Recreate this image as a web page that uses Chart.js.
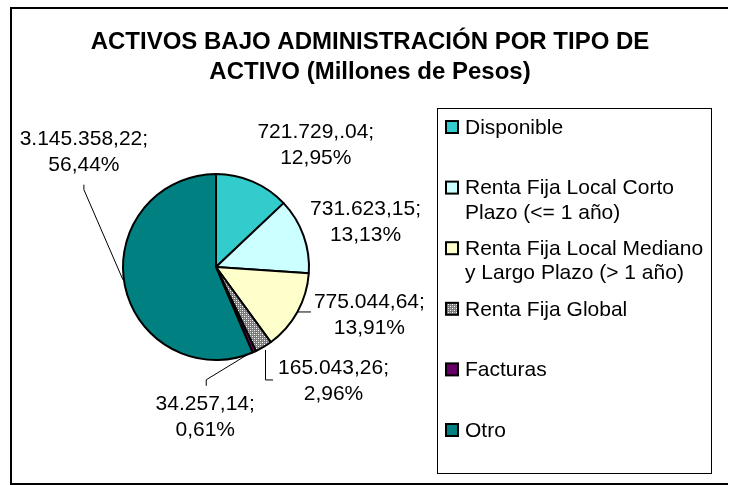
<!DOCTYPE html>
<html>
<head>
<meta charset="utf-8">
<script src="https://cdn.jsdelivr.net/npm/chart.js@4.4.0/dist/chart.umd.min.js"></script>
<style>
  body { margin: 0; background: #fff; }
  #wrap { width: 737px; height: 485px; }
</style>
</head>
<body>
<div id="wrap"><canvas id="pieChart" width="737" height="485"></canvas></div>
<script>
const titleLines = ['ACTIVOS BAJO ADMINISTRACIÓN POR TIPO DE', 'ACTIVO (Millones de Pesos)'];
const categories = [
    'Disponible',
    'Renta Fija Local Corto Plazo (<= 1 año)',
    'Renta Fija Local Mediano y Largo Plazo (> 1 año)',
    'Renta Fija Global',
    'Facturas',
    'Otro'
];
const amounts = [721729.04, 731623.15, 775044.64, 165043.26, 34257.14, 3145358.22];
const amountLabels = ['721.729,.04', '731.623,15', '775.044,64', '165.043,26', '34.257,14', '3.145.358,22'];

const FONT = '"Liberation Sans", Arial, sans-serif';

// grey dotted fill used by Excel for "Renta Fija Global"
function dotPattern() {
    const c = document.createElement('canvas');
    c.width = 4;
    c.height = 4;
    const g = c.getContext('2d');
    g.fillStyle = '#7a7a7a';
    g.fillRect(0, 0, 4, 4);
    g.fillStyle = '#ffffff';
    g.fillRect(0, 0, 1, 1);
    g.fillRect(2, 2, 1, 1);
    g.fillStyle = '#c8c8c8';
    g.fillRect(2, 0, 1, 1);
    g.fillRect(0, 2, 1, 1);
    return g.createPattern(c, 'repeat');
}

const sliceColors = ['#33cccc', '#ccffff', '#ffffcc', dotPattern(), '#660066', '#008080'];

// label block centre relative to the slice's outer mid point, plus leader style
const labelPlacement = [
    { dx: 63, dy: -37, leader: null },
    { dx: 62, dy: -14, leader: null },
    { dx: 72, dy: 2, leader: 'side' },
    { dx: 70, dy: 33, leader: 'elbow' },
    { dx: -49, dy: 64, leader: 'top' },
    { dx: -41, dy: -134, leader: 'bottom' }
];

function formatPct(v, total) {
    return (v / total * 100).toFixed(2).replace('.', ',') + '%';
}

function wrapText(ctx, text, maxWidth) {
    const words = text.split(' ');
    const lines = [];
    let line = '';
    words.forEach(w => {
        const test = line ? line + ' ' + w : w;
        if (ctx.measureText(test).width > maxWidth && line) {
            lines.push(line);
            line = w;
        } else {
            line = test;
        }
    });
    lines.push(line);
    return lines;
}

const decorPlugin = {
    id: 'decor',
    beforeDraw(chart) {
        const ctx = chart.ctx;
        ctx.save();
        ctx.fillStyle = '#fff';
        ctx.fillRect(0, 0, chart.width, chart.height);

        // outer frame (right side is cut off in the original)
        ctx.strokeStyle = '#000';
        ctx.lineWidth = 2;
        ctx.beginPath();
        ctx.moveTo(728, 8);
        ctx.lineTo(11, 8);
        ctx.lineTo(11, 484);
        ctx.lineTo(728, 484);
        ctx.stroke();

        // title
        ctx.fillStyle = '#000';
        ctx.font = 'bold 24px ' + FONT;
        ctx.textAlign = 'center';
        ctx.textBaseline = 'middle';
        titleLines.forEach((t, i) => ctx.fillText(t, 370, 42 + i * 30));

        // legend
        ctx.lineWidth = 1;
        ctx.strokeRect(437.5, 108.5, 274, 365);
        ctx.font = '21px ' + FONT;
        ctx.textAlign = 'left';
        categories.forEach((cat, i) => {
            const y = 127 + i * 60.6;
            ctx.fillStyle = sliceColors[i];
            ctx.fillRect(446, y - 6, 12, 12);
            ctx.lineWidth = 2;
            ctx.strokeRect(446, y - 6, 12, 12);
            ctx.fillStyle = '#000';
            wrapText(ctx, cat, 245).forEach((ln, j) => ctx.fillText(ln, 465, y + 1 + j * 24.5));
        });
        ctx.restore();
    },
    afterDatasetsDraw(chart) {
        const ctx = chart.ctx;
        const arcs = chart.getDatasetMeta(0).data;
        const total = amounts.reduce((a, b) => a + b, 0);
        ctx.save();
        ctx.font = '21px ' + FONT;
        ctx.fillStyle = '#000';
        ctx.strokeStyle = '#000';
        ctx.lineWidth = 1;
        ctx.textAlign = 'center';
        ctx.textBaseline = 'middle';
        arcs.forEach((arc, i) => {
            const mid = (arc.startAngle + arc.endAngle) / 2;
            const ex = arc.x + arc.outerRadius * Math.cos(mid);
            const ey = arc.y + arc.outerRadius * Math.sin(mid);
            const p = labelPlacement[i];
            const cx = ex + p.dx;
            const cy = ey + p.dy;
            const lines = [amountLabels[i] + ';', formatPct(amounts[i], total)];
            const w = Math.max(...lines.map(l => ctx.measureText(l).width));
            const left = cx - w / 2;

            ctx.beginPath();
            if (p.leader === 'side') {
                ctx.moveTo(ex, ey);
                ctx.lineTo(left - 3, ey);
            } else if (p.leader === 'elbow') {
                ctx.moveTo(ex + 2, ey + 3);
                ctx.lineTo(ex + 2, cy);
                ctx.lineTo(left - 5, cy);
            } else if (p.leader === 'top') {
                ctx.moveTo(ex - 7, ey + 3);
                ctx.lineTo(cx + 1, cy - 36);
                ctx.lineTo(cx + 1, cy - 30);
            } else if (p.leader === 'bottom') {
                ctx.moveTo(ex - 2, ey - 6);
                ctx.lineTo(cx, cy + 38);
                ctx.lineTo(cx, cy + 33);
            }
            ctx.stroke();

            lines.forEach((ln, j) => ctx.fillText(ln, cx, cy - 12 + j * 26));
        });
        ctx.restore();
    }
};

new Chart(document.getElementById('pieChart'), {
    type: 'pie',
    data: {
        labels: categories,
        datasets: [{
            data: amounts,
            backgroundColor: sliceColors,
            borderColor: '#000',
            borderWidth: 2,
            radius: 93
        }]
    },
    options: {
        responsive: false,
        animation: false,
        events: [],
        layout: {
            padding: { left: 116, right: 421, top: 167, bottom: 118 }
        },
        plugins: {
            legend: { display: false },
            title: { display: false },
            tooltip: { enabled: false }
        }
    },
    plugins: [decorPlugin]
});
</script>
</body>
</html>
